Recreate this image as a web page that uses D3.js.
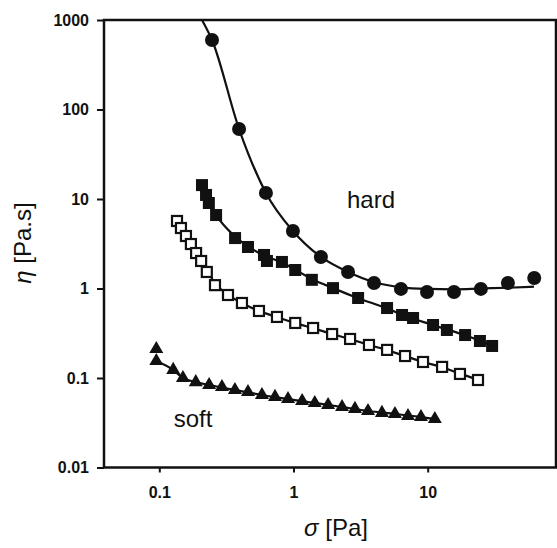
<!DOCTYPE html>
<html>
<head>
<meta charset="utf-8">
<script src="https://cdn.jsdelivr.net/npm/d3@7"></script>
<style>
  body { margin: 0; background: #fff; }
  text { font-family: "Liberation Sans", Arial, sans-serif; fill: #111; }
</style>
</head>
<body>
<svg id="graph" width="557" height="548"></svg>
<script>
// measured points, sigma [Pa] / eta [Pa.s]
var hardX = [0.247, 0.393, 0.623, 0.99, 1.6, 2.55, 3.98, 6.32, 9.88, 15.7, 24.9, 39.6, 62.2];
var hardY = [598, 60.5, 11.7, 4.39, 2.25, 1.53, 1.15, 0.99, 0.914, 0.914, 0.99, 1.15, 1.31];

var midX = [0.208, 0.223, 0.234, 0.265, 0.367, 0.458, 0.603, 0.634, 0.82, 1.03, 1.37, 1.97, 3.03,
            4.98, 6.44, 7.78, 10.96, 13.9, 19.0, 24.5, 30.2];
var midY = [14.3, 11.1, 9.02, 6.62, 3.66, 2.91, 2.37, 2.03, 1.98, 1.61, 1.25, 1.01, 0.783,
            0.605, 0.506, 0.468, 0.391, 0.344, 0.302, 0.259, 0.228];

var openX = [0.1355, 0.145, 0.158, 0.172, 0.188, 0.205, 0.226, 0.26, 0.325, 0.413, 0.553, 0.753,
             1.03, 1.4, 1.94, 2.64, 3.65, 4.98, 6.78, 9.23, 12.8, 17.4, 23.7];
var openY = [5.68, 4.74, 3.86, 3.14, 2.49, 2.03, 1.53, 1.09, 0.846, 0.689, 0.561, 0.481,
             0.412, 0.362, 0.31, 0.273, 0.234, 0.206, 0.176, 0.151, 0.133, 0.111, 0.095];

var softX = [0.095, 0.095, 0.127, 0.15, 0.187, 0.235, 0.293, 0.366, 0.458, 0.582, 0.728, 0.91,
             1.16, 1.44, 1.81, 2.3, 2.87, 3.59, 4.56, 5.7, 7.13, 8.91, 11.3];
var softY = [0.211, 0.155, 0.123, 0.1, 0.09, 0.0835, 0.0793, 0.0734, 0.0698, 0.0646, 0.0614, 0.0582,
             0.0553, 0.0526, 0.0499, 0.0474, 0.0451, 0.0428, 0.0407, 0.0396, 0.0376, 0.0366, 0.0348];

// fitted curves as drawn in the figure
var hardFitX = [0.208, 0.247, 0.393, 0.623, 0.99, 1.6, 2.55, 3.98, 6.32, 9.88, 15.7, 24.9, 39.6, 62];
var hardFitY = [1000, 598, 60.5, 11.7, 4.39, 2.25, 1.53, 1.18, 1.03, 0.99, 0.98, 1.0, 1.02, 1.05];
var midFitX = [0.234, 0.265, 0.367, 0.458, 0.62, 0.82, 1.03, 1.37, 1.97, 3.03, 4.98, 6.44, 10.96, 19, 30.2];
var midFitY = [9.0, 6.6, 3.8, 2.95, 2.3, 1.95, 1.62, 1.28, 1.01, 0.78, 0.6, 0.51, 0.39, 0.3, 0.23];
var openFitX = [0.136, 0.158, 0.188, 0.226, 0.26, 0.325, 0.413, 0.553, 0.753, 1.03, 1.4, 1.94,
                2.64, 3.65, 4.98, 6.78, 9.23, 12.8, 17.4, 23.7];
var openFitY = [5.7, 3.9, 2.6, 1.6, 1.15, 0.85, 0.69, 0.56, 0.48, 0.41, 0.36, 0.31,
                0.272, 0.234, 0.205, 0.176, 0.151, 0.132, 0.112, 0.096];
var softFitX = [0.095, 0.127, 0.15, 0.187, 0.235, 0.366, 0.582, 0.91, 1.44, 2.3, 3.59, 5.7, 8.91, 11.3];
var softFitY = [0.155, 0.123, 0.1, 0.09, 0.0835, 0.0734, 0.0646, 0.0582, 0.0526, 0.0474, 0.0428, 0.0396, 0.0366, 0.0348];

var xTicks = [0.1, 1, 10];
var xTickLabels = ["0.1", "1", "10"];
var yTicks = [0.01, 0.1, 1, 10, 100, 1000];
var yTickLabels = ["0.01", "0.1", "1", "10", "100", "1000"];

var drawChart = function() {
    var mLeft = 104, mRight = 556, mTop = 20, mBottom = 467.5;

    // decade 0.1 sits at x=159.3, 10 at x=427.7
    var x = d3.scaleLog()
        .domain([Math.pow(10, -1 - (159.3 - mLeft) / 134.2), Math.pow(10, -1 + (mRight - 159.3) / 134.2)])
        .range([mLeft, mRight]);
    var y = d3.scaleLog().domain([0.01, 1000]).range([mBottom, mTop]);

    var zip = function(xs, ys) {
        return xs.map(function(v, i) { return [v, ys[i]]; });
    };

    var fig = d3.select("#graph");

    fig.append("defs").append("clipPath").attr("id", "plot")
        .append("rect").attr("x", mLeft).attr("y", mTop)
        .attr("width", mRight - mLeft).attr("height", mBottom - mTop);

    // axes
    var yAxis = d3.axisLeft(y).tickValues(yTicks)
        .tickFormat(function(d, i) { return yTickLabels[i]; })
        .tickSize(7).tickSizeOuter(0).tickPadding(8);
    var xAxis = d3.axisBottom(x).tickValues(xTicks)
        .tickFormat(function(d, i) { return xTickLabels[i]; })
        .tickSize(5).tickSizeOuter(0).tickPadding(14);

    var gy = fig.append("g").attr("transform", "translate(" + mLeft + ",0)").call(yAxis);
    var gx = fig.append("g").attr("transform", "translate(0," + mBottom + ")").call(xAxis);
    [gx, gy].forEach(function(g) {
        g.select(".domain").remove();
        g.selectAll(".tick line").attr("stroke", "#111").attr("stroke-width", 2);
        g.selectAll(".tick text")
            .attr("font-size", 16).attr("font-weight", "bold")
            .attr("font-family", "Liberation Sans, Arial, sans-serif").attr("fill", "#111");
    });

    // frame
    fig.append("path")
        .attr("d", "M" + mLeft + "," + mTop + "H" + mRight + "V" + mBottom + "H" + mLeft + "Z")
        .attr("fill", "none").attr("stroke", "#111").attr("stroke-width", 2.5);

    // fit lines
    var line = d3.line()
        .x(function(d) { return x(d[0]); })
        .y(function(d) { return y(d[1]); })
        .curve(d3.curveMonotoneX);

    var lines = fig.append("g").attr("clip-path", "url(#plot)");
    [[hardFitX, hardFitY], [midFitX, midFitY], [openFitX, openFitY], [softFitX, softFitY]].forEach(function(s) {
        lines.append("path")
            .attr("d", line(zip(s[0], s[1])))
            .attr("fill", "none").attr("stroke", "#111").attr("stroke-width", 2.2);
    });

    // markers
    var marks = fig.append("g");

    marks.selectAll(".hard").data(zip(hardX, hardY)).enter().append("circle")
        .attr("class", "hard")
        .attr("cx", function(d) { return x(d[0]); })
        .attr("cy", function(d) { return y(d[1]); })
        .attr("r", 7).attr("fill", "#111");

    marks.selectAll(".mid").data(zip(midX, midY)).enter().append("rect")
        .attr("class", "mid")
        .attr("x", function(d) { return x(d[0]) - 6; })
        .attr("y", function(d) { return y(d[1]) - 6; })
        .attr("width", 12).attr("height", 12).attr("fill", "#111");

    marks.selectAll(".open").data(zip(openX, openY)).enter().append("rect")
        .attr("class", "open")
        .attr("x", function(d) { return x(d[0]) - 5; })
        .attr("y", function(d) { return y(d[1]) - 5; })
        .attr("width", 10).attr("height", 10)
        .attr("fill", "#fff").attr("stroke", "#111").attr("stroke-width", 2.2);

    var tri = d3.symbol().type(d3.symbolTriangle).size(85);
    marks.selectAll(".soft").data(zip(softX, softY)).enter().append("path")
        .attr("class", "soft")
        .attr("transform", function(d) { return "translate(" + x(d[0]) + "," + y(d[1]) + ")"; })
        .attr("d", tri).attr("fill", "#111");

    // labels
    fig.append("text").attr("x", 371).attr("y", 208).attr("text-anchor", "middle")
        .attr("font-size", 24).text("hard");
    fig.append("text").attr("x", 193).attr("y", 427).attr("text-anchor", "middle")
        .attr("font-size", 24).text("soft");

    var yt = fig.append("text")
        .attr("transform", "translate(31,243) rotate(-90)")
        .attr("text-anchor", "middle").attr("font-size", 24);
    yt.append("tspan").attr("font-style", "italic").text("η");
    yt.append("tspan").text(" [Pa.s]");

    var xt = fig.append("text")
        .attr("x", 336).attr("y", 536)
        .attr("text-anchor", "middle").attr("font-size", 24);
    xt.append("tspan").attr("font-style", "italic").text("σ");
    xt.append("tspan").text(" [Pa]");
};

drawChart();
</script>
</body>
</html>
